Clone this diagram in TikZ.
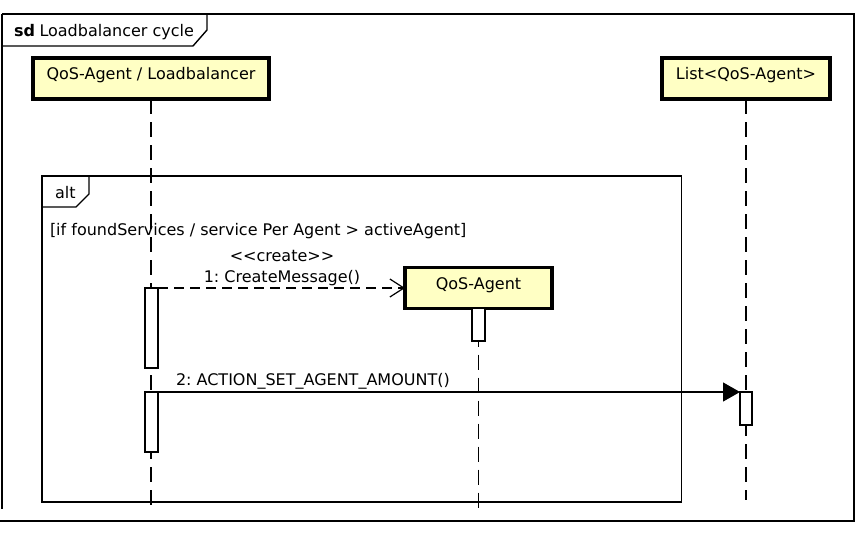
\documentclass[tikz,border=0pt]{standalone}
\usepackage{fontspec}
\setmainfont{DejaVu Sans}
\usetikzlibrary{arrows.meta}
\definecolor{headfill}{RGB}{255,255,196}
\frenchspacing
\begin{document}
\begin{tikzpicture}[x=1pt,y=-1pt,
  every node/.style={font=\fontsize{16}{18}\selectfont, inner sep=0pt, outer sep=0pt},
  framepath/.style={line width=1.4pt, line join=miter},
  head/.style={draw, line width=3.3pt, fill=headfill, minimum height=41pt, text height=12pt, text depth=10pt},
  act/.style={draw, fill=white, line width=1.2pt},
  lifeline/.style={line width=1.3pt, dash pattern=on 15pt off 8pt},
  createmsg/.style={line width=1.2pt, dash pattern=on 10pt off 6pt, -{Straight Barb[length=14pt,width=18pt,line width=1.2pt]}},
  syncmsg/.style={line width=1.2pt, -{Triangle[length=17pt,width=19pt]}},
  lbl/.style={anchor=base west}
]
\useasboundingbox (0,0) rectangle (868,544);

% outer sd frame
\draw[framepath] (2,14) -- (854,14) -- (854,521) -- (0,521);
\draw[framepath] (2,14) -- (2,509);
\draw[framepath] (2,46) -- (193,46) -- (207,30) -- (207,14);
\node[anchor=base west, font=\fontsize{16}{18}\selectfont\bfseries] (sd) at (14,36) {sd};
\node[lbl] (title) at (39.5,36) {Loadbalancer cycle};

% lifeline heads
\node[head, minimum width=236pt] (lb) at (151,78.5) {QoS-Agent / Loadbalancer};
\node[head, minimum width=168pt] (list) at (746,78.5) {List<QoS-Agent>};

% lifeline ends
\coordinate (lbend) at (151,510);
\coordinate (listend) at (746,500);
\coordinate (qosend) at (478.5,510);

\draw[lifeline] (lb.south) -- (lbend);
\draw[lifeline] (list.south) -- (listend);

% alt fragment
\draw[line width=1.3pt] (42,176) rectangle (681.5,502);
\draw[line width=1.3pt] (42,207) -- (76,207) -- (89,194) -- (89,176);
\node[lbl] (alt) at (55,198) {alt};
\node[lbl] (guard) at (50,235) {[if foundServices / service Per Agent > activeAgent]};

% created lifeline
\node[head, minimum width=147pt] (qos) at (478.5,288) {QoS-Agent};
\draw[lifeline] (qos.south) -- (qosend);

% activations
\node[act, minimum width=13pt, minimum height=80pt] (a1) at (151.5,328) {};
\node[act, minimum width=13pt, minimum height=60pt] (a2) at (151.5,422) {};
\node[act, minimum width=13pt, minimum height=33pt] (a3) at (478.5,324.5) {};
\node[act, minimum width=12pt, minimum height=33pt] (a4) at (746,408.5) {};

% messages
\draw[createmsg] (a1.north east) -- (qos.west);
\node[anchor=base] (st) at (282,261) {<{}<create>{}>};
\node[anchor=base] (m1) at (282,282) {1: CreateMessage()};

\draw[syncmsg] (a2.north east) -- (a4.north west);
\node[lbl] (m2) at (176,385) {2: ACTION\_SET\_AGENT\_AMOUNT()};
\end{tikzpicture}
\end{document}
